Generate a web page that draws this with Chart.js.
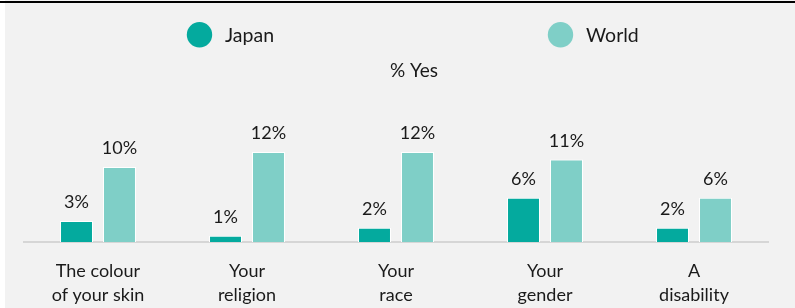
<!DOCTYPE html>
<html>
<head>
<meta charset="utf-8">
<script src="https://cdn.jsdelivr.net/npm/chart.js@4"></script>
<style>
  html, body { margin: 0; padding: 0; }
  body { width: 795px; height: 308px; background: #f2f2f2; position: relative; overflow: hidden; }
  #strip { position: absolute; left: 0; top: 0; width: 5px; height: 308px; background: #fff; }
  #rule { position: absolute; left: 0; top: 1px; width: 795px; height: 2px; background: #000; }
  #box { position: absolute; left: 0; top: 0; width: 795px; height: 308px; }
</style>
</head>
<body>
<div id="strip"></div>
<div id="rule"></div>
<div id="box"><canvas id="grafico"></canvas></div>
<script>
const categorias = [
  ['The colour', 'of your skin'],
  ['Your', 'religion'],
  ['Your', 'race'],
  ['Your', 'gender'],
  ['A', 'disability']
];
const japao = [2.8, 0.85, 1.9, 5.9, 1.9];
const mundo = [10, 12, 12, 11, 5.9];
const series = ['Japan', 'World'];
const cores = ['#04aa9e', '#7fcfc7'];
const titulo = '% Yes';

const fonte = 'Lato, "Noto Sans", sans-serif';

// legenda e titulo desenhados a mao
const topo = {
  id: 'topo',
  afterDraw(chart) {
    const ctx = chart.ctx;
    ctx.save();
    const xs = [199.5, 560.5];
    chart.data.datasets.forEach((ds, i) => {
      ctx.fillStyle = ds.backgroundColor;
      ctx.beginPath();
      ctx.arc(xs[i], 34.8, 12.7, 0, Math.PI * 2);
      ctx.fill();
      ctx.fillStyle = '#1a1a1a';
      ctx.font = '19.5px ' + fonte;
      ctx.textAlign = 'left';
      ctx.textBaseline = 'alphabetic';
      ctx.fillText(ds.label, xs[i] + 25.5, 41.7);
    });
    ctx.font = '19px ' + fonte;
    ctx.textAlign = 'center';
    ctx.fillText(titulo, 414, 77);
    ctx.restore();
  }
};

const rotulos = {
  id: 'rotulos',
  afterDatasetsDraw(chart) {
    const ctx = chart.ctx;
    ctx.save();
    ctx.fillStyle = '#1a1a1a';
    ctx.font = '18px ' + fonte;
    ctx.textAlign = 'center';
    ctx.textBaseline = 'alphabetic';
    chart.data.datasets.forEach((ds, i) => {
      chart.getDatasetMeta(i).data.forEach((bar, j) => {
        ctx.fillText(Math.round(ds.data[j]) + '%', bar.x, bar.y - 13);
      });
    });
    ctx.restore();
  }
};

const ctx = document.getElementById('grafico').getContext('2d');
const grafico = new Chart(ctx, {
  type: 'bar',
  data: {
    labels: categorias,
    datasets: [{
      label: series[0],
      data: japao,
      backgroundColor: cores[0],
      borderColor: '#ffffff',
      borderWidth: 1
    }, {
      label: series[1],
      data: mundo,
      backgroundColor: cores[1],
      borderColor: '#ffffff',
      borderWidth: 1
    }]
  },
  options: {
    responsive: true,
    maintainAspectRatio: false,
    animation: false,
    categoryPercentage: 0.577,
    barPercentage: 0.767,
    layout: { padding: { left: 23.5, right: 26.5, top: 137, bottom: 0 } },
    plugins: {
      legend: { display: false },
      tooltip: { enabled: false }
    },
    scales: {
      x: {
        afterFit(scale) { scale.height = 66; },
        grid: { display: false, drawTicks: false },
        border: { display: true, color: '#d6d6d6', width: 2 },
        ticks: {
          padding: 17.5,
          color: '#1a1a1a',
          maxRotation: 0,
          autoSkip: false,
          font: { family: fonte, size: 18, lineHeight: '24px' }
        }
      },
      y: {
        display: false,
        min: 0,
        max: 14
      }
    }
  },
  plugins: [topo, rotulos]
});
</script>
</body>
</html>
